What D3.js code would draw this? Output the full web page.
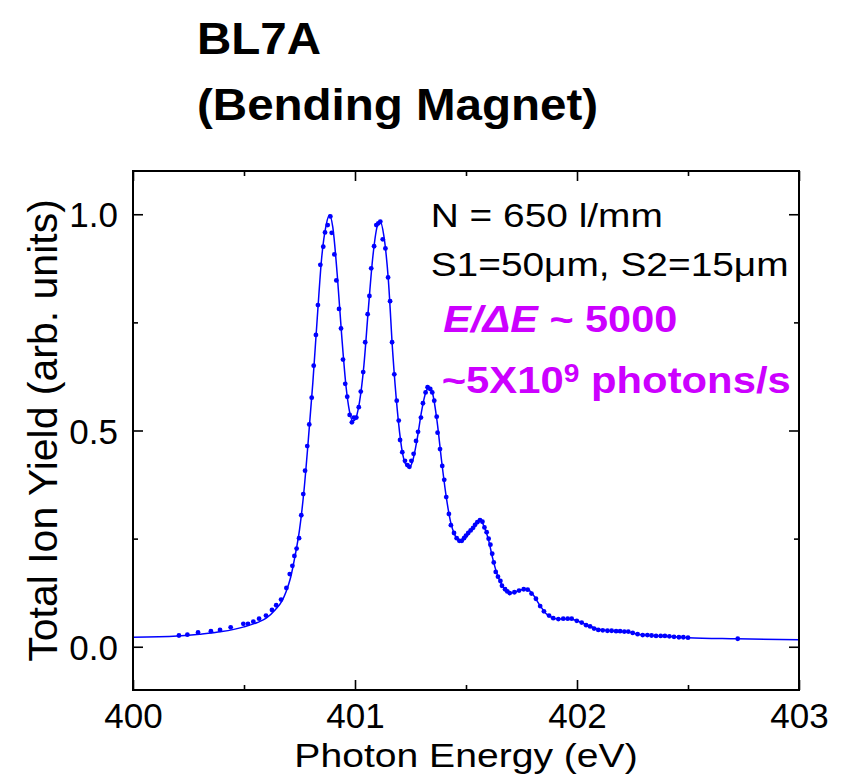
<!DOCTYPE html>
<html>
<head>
<meta charset="utf-8">
<script src="https://cdn.jsdelivr.net/npm/d3@7"></script>
<style>
  html, body { margin: 0; padding: 0; background: #ffffff; }
  svg { display: block; }
  text { font-family: "Liberation Sans", Arial, Helvetica, sans-serif; }
</style>
</head>
<body>
<div id="chart"></div>
<script>
// ---- Data ----
const dotEnergy = [
  400.207, 400.245, 400.293, 400.351, 400.392, 400.440, 400.497, 400.518, 400.542, 400.568,
  400.599, 400.626, 400.645, 400.667, 400.691, 400.706, 400.718, 400.727, 400.737, 400.748,
  400.758, 400.767, 400.775, 400.785, 400.794, 400.805, 400.814, 400.824, 400.833, 400.844,
  400.857, 400.865, 400.877, 400.889, 400.895, 400.907, 400.916, 400.928, 400.937, 400.946,
  400.956, 400.965, 400.976, 400.986, 400.995, 401.006, 401.017, 401.026, 401.037, 401.046,
  401.057, 401.065, 401.073, 401.086, 401.096, 401.105, 401.114, 401.125, 401.137, 401.149,
  401.158, 401.167, 401.177, 401.188, 401.197, 401.203, 401.213, 401.225, 401.236, 401.245,
  401.254, 401.264, 401.275, 401.284, 401.297, 401.306, 401.318, 401.327, 401.339, 401.348,
  401.357, 401.368, 401.372, 401.383, 401.393, 401.402, 401.411, 401.423, 401.432, 401.446,
  401.458, 401.470, 401.481, 401.491, 401.500, 401.510, 401.521, 401.532, 401.541, 401.551,
  401.563, 401.574, 401.583, 401.593, 401.602, 401.610, 401.618, 401.625, 401.634, 401.644,
  401.655, 401.662, 401.676, 401.686, 401.697, 401.718, 401.739, 401.760, 401.778, 401.795,
  401.815, 401.834, 401.851, 401.874, 401.893, 401.916, 401.938, 401.958, 401.976, 401.999,
  402.021, 402.041, 402.059, 402.077, 402.096, 402.116, 402.137, 402.156, 402.176, 402.194,
  402.213, 402.231, 402.251, 402.273, 402.296, 402.317, 402.336, 402.356, 402.377, 402.396,
  402.416, 402.437, 402.459, 402.479, 402.500, 402.724
];
const dotYield = [
  0.026, 0.028, 0.033, 0.036, 0.039, 0.045, 0.053, 0.053, 0.058, 0.065,
  0.072, 0.085, 0.096, 0.109, 0.136, 0.168, 0.187, 0.210, 0.227, 0.251,
  0.304, 0.353, 0.407, 0.464, 0.514, 0.576, 0.650, 0.721, 0.790, 0.883,
  0.925, 0.958, 0.975, 0.995, 0.957, 0.907, 0.847, 0.781, 0.736, 0.664,
  0.608, 0.578, 0.536, 0.519, 0.530, 0.530, 0.554, 0.590, 0.635, 0.704,
  0.769, 0.811, 0.875, 0.926, 0.975, 0.979, 0.983, 0.942, 0.921, 0.854,
  0.799, 0.704, 0.630, 0.569, 0.523, 0.478, 0.450, 0.430, 0.420, 0.416,
  0.430, 0.446, 0.476, 0.497, 0.530, 0.563, 0.588, 0.600, 0.596, 0.588,
  0.569, 0.532, 0.495, 0.457, 0.418, 0.386, 0.346, 0.307, 0.281, 0.263,
  0.251, 0.245, 0.245, 0.251, 0.257, 0.263, 0.269, 0.275, 0.282, 0.288,
  0.293, 0.289, 0.276, 0.265, 0.250, 0.236, 0.215, 0.195, 0.173, 0.162,
  0.152, 0.141, 0.133, 0.128, 0.124, 0.126, 0.130, 0.133, 0.132, 0.123,
  0.111, 0.094, 0.082, 0.072, 0.066, 0.064, 0.065, 0.065, 0.065, 0.060,
  0.056, 0.050, 0.047, 0.042, 0.039, 0.038, 0.037, 0.037, 0.036, 0.036,
  0.035, 0.035, 0.032, 0.029, 0.027, 0.027, 0.026, 0.025, 0.025, 0.025,
  0.024, 0.023, 0.022, 0.022, 0.021, 0.0185
];
// smooth fit curve
const fitEnergy = [
  400.00, 400.20, 400.30, 400.40, 400.50, 400.56, 400.60, 400.64, 400.67, 400.69,
  400.71, 400.73, 400.75, 400.77, 400.79, 400.81, 400.83, 400.85, 400.87, 400.885,
  400.90, 400.92, 400.94, 400.96, 400.975, 400.99, 401.00, 401.02, 401.04, 401.06,
  401.08, 401.10, 401.113, 401.13, 401.15, 401.17, 401.19, 401.21, 401.23, 401.245,
  401.26, 401.28, 401.30, 401.32, 401.335, 401.35, 401.37, 401.39, 401.41, 401.43,
  401.45, 401.47, 401.49, 401.52, 401.55, 401.565, 401.58, 401.60, 401.62, 401.64,
  401.66, 401.68, 401.70, 401.72, 401.75, 401.775, 401.80, 401.83, 401.86, 401.89,
  401.92, 401.97, 402.00, 402.05, 402.10, 402.15, 402.20, 402.25, 402.30, 402.40,
  402.50, 402.72, 403.00
];
const fitYield = [
  0.022, 0.025, 0.029, 0.035, 0.046, 0.056, 0.066, 0.085, 0.105, 0.128,
  0.160, 0.210, 0.270, 0.360, 0.480, 0.610, 0.760, 0.900, 0.975, 0.998,
  0.970, 0.860, 0.720, 0.600, 0.545, 0.522, 0.525, 0.565, 0.650, 0.780,
  0.900, 0.972, 0.984, 0.950, 0.850, 0.680, 0.550, 0.460, 0.420, 0.415,
  0.430, 0.480, 0.545, 0.590, 0.600, 0.585, 0.520, 0.430, 0.350, 0.290,
  0.258, 0.245, 0.248, 0.268, 0.288, 0.294, 0.280, 0.250, 0.205, 0.168,
  0.145, 0.130, 0.124, 0.126, 0.132, 0.133, 0.122, 0.098, 0.077, 0.067,
  0.064, 0.064, 0.060, 0.049, 0.040, 0.037, 0.035, 0.032, 0.027, 0.024,
  0.021, 0.0185, 0.016
];
const xMajorTicks = [400, 401, 402, 403];
const xMinorTicks = [400.5, 401.5, 402.5];
const yMajorTicks = [0.0, 0.5, 1.0];
const yMinorTicks = [0.25, 0.75];
const titleLines = ["BL7A", "(Bending Magnet)"];

// ---- Layout ----
const W = 847, H = 779;
const PL = 133, PR = 799, PT = 171, PB = 690;
const blue = "#0000ff";
const magenta = "#cc00ff";
const TICK_SX = 1.0;

const svg = d3.select("#chart").append("svg").attr("width", W).attr("height", H);
svg.append("rect").attr("width", W).attr("height", H).attr("fill", "#fff");

const x = d3.scaleLinear().domain([400, 403]).range([PL, PR]);
const y = d3.scaleLinear().domain([-0.1, 1.1]).range([PB, PT]);

// ---- Data marks ----
const fitPts = fitEnergy.map((e, i) => [e, fitYield[i]]);
const line = d3.line().x(d => x(d[0])).y(d => y(d[1])).curve(d3.curveMonotoneX);
svg.append("path").datum(fitPts).attr("d", line)
  .attr("fill", "none").attr("stroke", blue).attr("stroke-width", 1.5);

const dots = dotEnergy.map((e, i) => [e, dotYield[i]]);
svg.append("g").selectAll("circle").data(dots).join("circle")
  .attr("cx", d => x(d[0])).attr("cy", d => y(d[1])).attr("r", 2.4).attr("fill", blue);

// ---- Axes (ticks inward on all four sides) ----
function styleAxis(g) {
  g.select(".domain").remove();
  g.selectAll(".tick line").attr("stroke", "#000").attr("stroke-width", 1.6);
}
const fontTick = 35;

const gB = svg.append("g").attr("transform", `translate(0,${PB})`)
  .call(d3.axisBottom(x).tickValues(xMajorTicks).tickSizeInner(-10).tickSizeOuter(0)
        .tickPadding(13).tickFormat(d3.format("d")));
styleAxis(gB);
gB.selectAll(".tick text").attr("font-size", fontTick).attr("fill", "#000")
  .attr("font-family", "Liberation Sans, Arial, sans-serif")
  .attr("transform", `scale(${TICK_SX},1)`);
svg.append("g").attr("transform", `translate(0,${PB})`)
  .call(d3.axisBottom(x).tickValues(xMinorTicks).tickSize(-5).tickFormat(""))
  .call(styleAxis);

svg.append("g").attr("transform", `translate(0,${PT})`)
  .call(d3.axisTop(x).tickValues(xMajorTicks).tickSize(-10).tickFormat(""))
  .call(styleAxis);
svg.append("g").attr("transform", `translate(0,${PT})`)
  .call(d3.axisTop(x).tickValues(xMinorTicks).tickSize(-5).tickFormat(""))
  .call(styleAxis);

const gL = svg.append("g").attr("transform", `translate(${PL},0)`)
  .call(d3.axisLeft(y).tickValues(yMajorTicks).tickSizeInner(-10).tickSizeOuter(0)
        .tickPadding(15).tickFormat(d3.format(".1f")));
styleAxis(gL);
gL.selectAll(".tick text").attr("font-size", fontTick).attr("fill", "#000")
  .attr("font-family", "Liberation Sans, Arial, sans-serif")
  .attr("dy", "0.36em")
  .attr("transform", `scale(${TICK_SX},1)`);
svg.append("g").attr("transform", `translate(${PL},0)`)
  .call(d3.axisLeft(y).tickValues(yMinorTicks).tickSize(-5).tickFormat(""))
  .call(styleAxis);

svg.append("g").attr("transform", `translate(${PR},0)`)
  .call(d3.axisRight(y).tickValues(yMajorTicks).tickSize(-10).tickFormat(""))
  .call(styleAxis);
svg.append("g").attr("transform", `translate(${PR},0)`)
  .call(d3.axisRight(y).tickValues(yMinorTicks).tickSize(-5).tickFormat(""))
  .call(styleAxis);

// frame
svg.append("rect").attr("x", PL).attr("y", PT).attr("width", PR - PL).attr("height", PB - PT)
  .attr("fill", "none").attr("stroke", "#000").attr("stroke-width", 2);

// ---- Text ----
function addText(px, py, opts) {
  const g = svg.append("g").attr("transform", `translate(${px},${py}) scale(${opts.sx || 1},1)`);
  const t = g.append("text").attr("x", 0).attr("y", 0)
    .attr("font-size", opts.size).attr("fill", opts.fill || "#000")
    .attr("text-anchor", opts.anchor || "start")
    .attr("font-weight", opts.weight || "normal");
  return t;
}

// axis titles
addText((PL + PR) / 2, 767, { size: 34, anchor: "middle", sx: 1.15 }).text("Photon Energy (eV)");
svg.append("g").attr("transform", `translate(57,${(PT + PB) / 2}) rotate(-90)`)
  .append("text")
  .attr("text-anchor", "middle").attr("font-size", 41).attr("fill", "#000")
  .text("Total Ion Yield (arb. units)");

// title
addText(197, 54, { size: 44, weight: "bold", sx: 1.08 }).text(titleLines[0]);
addText(197, 120, { size: 44, weight: "bold", sx: 1.08 }).text(titleLines[1]);

// annotations
addText(430.7, 227.3, { size: 33.5, sx: 1.16 }).text("N = 650 l/mm");
addText(430.7, 276, { size: 33.5, sx: 1.16 }).text("S1=50\u03bcm, S2=15\u03bcm");

const t3 = addText(443.3, 331.7, { size: 37, weight: "bold", fill: magenta, sx: 1.12 });
t3.append("tspan").attr("font-style", "italic").text("E/\u0394E");
t3.append("tspan").text(" ~ 5000");

const t4 = addText(441.7, 393, { size: 37, weight: "bold", fill: magenta, sx: 1.13 });
t4.append("tspan").text("~5X10");
t4.append("tspan").attr("font-size", 25).attr("dy", -11).text("9");
t4.append("tspan").attr("dy", 11).text(" photons/s");
</script>
</body>
</html>
